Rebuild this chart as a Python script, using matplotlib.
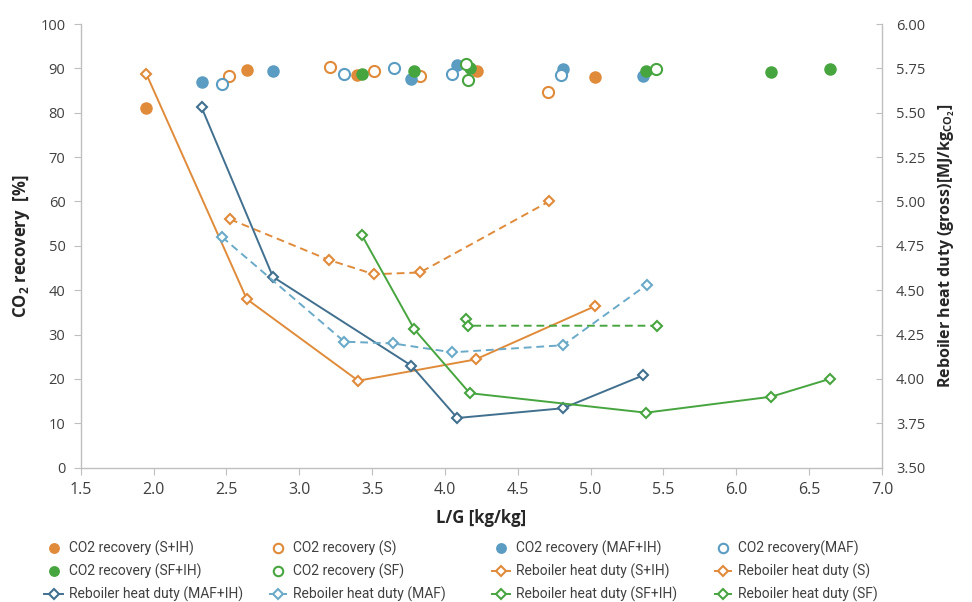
import matplotlib
matplotlib.use('Agg')
from matplotlib import pyplot as plt

plt.rcParams['font.family'] = ['Open Sans', 'DejaVu Sans']
plt.rcParams['mathtext.fontset'] = 'custom'
plt.rcParams['mathtext.bf'] = 'Open Sans:bold'
plt.rcParams['mathtext.rm'] = 'Open Sans:bold'

# CO2 recovery [%] vs L/G [kg/kg]
rec_s_ih_x = [1.95, 2.64, 3.40, 4.22, 5.03]
rec_s_ih_y = [81.1, 89.7, 88.6, 89.5, 88.0]
rec_s_x = [2.52, 3.21, 3.51, 3.83, 4.71]
rec_s_y = [88.2, 90.3, 89.5, 88.2, 84.6]
rec_maf_ih_x = [2.33, 2.82, 3.77, 4.08, 4.81, 5.36]
rec_maf_ih_y = [86.9, 89.5, 87.6, 90.7, 89.9, 88.2]
rec_maf_x = [2.47, 3.31, 3.65, 4.05, 4.80]
rec_maf_y = [86.5, 88.8, 90.1, 88.8, 88.4]
rec_sf_ih_x = [3.43, 3.79, 4.17, 5.38, 6.24, 6.64]
rec_sf_ih_y = [88.8, 89.5, 90.1, 89.3, 89.1, 89.9]
rec_sf_x = [4.145, 4.16, 5.45]
rec_sf_y = [91.0, 87.3, 89.9]

# Reboiler heat duty [MJ/kg CO2] vs L/G
hd_s_ih_x = [1.95, 2.64, 3.405, 4.21, 5.03]
hd_s_ih_y = [5.72, 4.45, 3.99, 4.11, 4.41]
hd_s_x = [2.525, 3.206, 3.513, 3.829, 4.714]
hd_s_y = [4.90, 4.67, 4.59, 4.60, 5.00]
hd_maf_ih_x = [2.33, 2.82, 3.77, 4.085, 4.81, 5.36]
hd_maf_ih_y = [5.53, 4.575, 4.075, 3.78, 3.835, 4.02]
hd_maf_x = [2.47, 3.31, 3.645, 4.05, 4.81, 5.385]
hd_maf_y = [4.80, 4.21, 4.20, 4.15, 4.19, 4.53]
hd_sf_ih_x = [3.43, 3.79, 4.17, 5.38, 6.24, 6.64]
hd_sf_ih_y = [4.81, 4.28, 3.92, 3.81, 3.90, 4.00]
hd_sf_x = [4.142, 4.16, 5.453]
hd_sf_y = [4.34, 4.30, 4.30]

orange = '#E08B3A'
blue = '#5B9CC2'
dblue = '#41708F'
lblue = '#6AAAC8'
green = '#47A53F'
grid_c = '#BFBFBF'
txt_c = '#404040'

fig = plt.figure(figsize=(9.72, 6.02), dpi=100)
ax = fig.add_axes([0.083, 0.2231, 0.8244, 0.737])
ax2 = ax.twinx()

ms = 8
mew = 1.5
h = {}
h['rsih'], = ax.plot(rec_s_ih_x, rec_s_ih_y, 'o', ms=ms, color=orange, mec=orange, label='CO2 recovery (S+IH)')
h['rs'], = ax.plot(rec_s_x, rec_s_y, 'o', ms=ms, mfc='white', mec=orange, mew=mew, label='CO2 recovery (S)')
h['rmih'], = ax.plot(rec_maf_ih_x, rec_maf_ih_y, 'o', ms=ms, color=blue, mec=blue, label='CO2 recovery (MAF+IH)')
h['rm'], = ax.plot(rec_maf_x, rec_maf_y, 'o', ms=ms, mfc='white', mec=blue, mew=mew, label='CO2 recovery(MAF)')
h['rfih'], = ax.plot(rec_sf_ih_x, rec_sf_ih_y, 'o', ms=ms, color=green, mec=green, label='CO2 recovery (SF+IH)')
h['rf'], = ax.plot(rec_sf_x, rec_sf_y, 'o', ms=ms, mfc='white', mec=green, mew=mew, label='CO2 recovery (SF)')

dms = 5.5
lw = 1.4
dash = (4, 2.5)
h['hsih'], = ax2.plot(hd_s_ih_x, hd_s_ih_y, '-D', color=orange, lw=lw, ms=dms, mfc='white', mew=mew, label='Reboiler heat duty (S+IH)')
h['hs'], = ax2.plot(hd_s_x, hd_s_y, '--D', color=orange, lw=lw, ms=dms, mfc='white', mew=mew, dashes=dash, label='Reboiler heat duty (S)')
h['hmih'], = ax2.plot(hd_maf_ih_x, hd_maf_ih_y, '-D', color=dblue, lw=lw, ms=dms, mfc='white', mew=mew, label='Reboiler heat duty (MAF+IH)')
h['hm'], = ax2.plot(hd_maf_x, hd_maf_y, '--D', color=lblue, lw=lw, ms=dms, mfc='white', mew=mew, dashes=dash, label='Reboiler heat duty (MAF)')
h['hfih'], = ax2.plot(hd_sf_ih_x, hd_sf_ih_y, '-D', color=green, lw=lw, ms=dms, mfc='white', mew=mew, label='Reboiler heat duty (SF+IH)')
h['hf'], = ax2.plot(hd_sf_x, hd_sf_y, '--D', color=green, lw=lw, ms=dms, mfc='white', mew=mew, dashes=dash, label='Reboiler heat duty (SF)')

ax.set_xlim(1.5, 7.0)
ax.set_ylim(0, 100)
ax2.set_ylim(3.5, 6.0)
ax.set_xticks([1.5 + 0.5 * i for i in range(12)])
ax.set_yticks(range(0, 101, 10))
ax2.set_yticks([3.5 + 0.25 * i for i in range(11)])
ax2.set_yticklabels(['%.2f' % (3.5 + 0.25 * i) for i in range(11)])

for a in (ax, ax2):
    a.spines['top'].set_visible(False)
    for s in ('left', 'right', 'bottom'):
        a.spines[s].set_color(grid_c)
        a.spines[s].set_linewidth(1.0)
ax.spines['right'].set_visible(False)
ax2.spines['left'].set_visible(False)
ax2.spines['bottom'].set_visible(False)

ax.tick_params(axis='x', colors=grid_c, labelcolor=txt_c, labelsize=11.5, length=5, pad=5)
ax.tick_params(axis='y', colors=grid_c, labelcolor=txt_c, labelsize=10.5, length=5, pad=6)
ax2.tick_params(axis='y', colors=grid_c, labelcolor=txt_c, labelsize=10.5, length=4, pad=10, direction='in')

ax.set_xlabel('L/G [kg/kg]', fontsize=12, fontweight='bold', color='#262626', labelpad=8)
ax.set_ylabel(r'CO$_2$ recovery  [%]', fontsize=12, fontweight='bold', color='#262626', labelpad=6)
ax2.set_ylabel(r'Reboiler heat duty (gross)[MJ/kg$_{\mathrm{CO_2}}$]', fontsize=11.5,
               fontweight='bold', color='#262626', labelpad=8)

# one legend per column so each column sits where the reference puts it
columns = [['rsih', 'rfih', 'hmih'],
           ['rs', 'rf', 'hm'],
           ['rmih', 'hsih', 'hfih'],
           ['rm', 'hs', 'hf']]
col_x = [0.0329, 0.2634, 0.4928, 0.7212]
for keys, x0 in zip(columns, col_x):
    hs = [h[k] for k in keys]
    fig.legend(hs, [x.get_label() for x in hs], ncol=1, loc='upper left',
               bbox_to_anchor=(x0, 0.122), frameon=False,
               prop={'family': ['Roboto', 'DejaVu Sans'], 'size': 10},
               handlelength=1.3, handletextpad=0.45, labelspacing=0.55,
               markerscale=0.85, labelcolor=txt_c)

fig.savefig('out.png', dpi=100)
